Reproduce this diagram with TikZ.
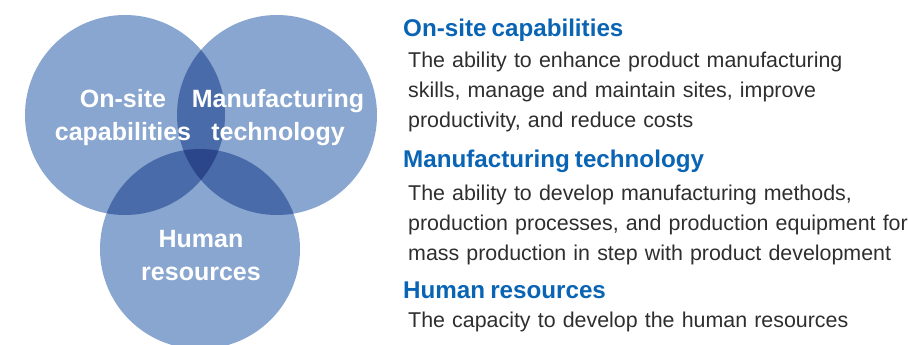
\documentclass[tikz,border=0pt]{standalone}
\usepackage{fontspec}
\setmainfont[WordSpace=0.75]{Liberation Sans}
\usepackage{tikz}
\definecolor{lightfill}{HTML}{88A6CF}
\definecolor{midfill}{HTML}{4A6BA9}
\definecolor{darkfill}{HTML}{2B468A}
\definecolor{headblue}{HTML}{0A64B4}
\definecolor{bodygray}{HTML}{2E2E2E}
\tikzset{
  circlabel/.style= {white, font=\fontsize{25}{33}\selectfont\bfseries, text width=200, align=center, inner sep=0, anchor=base},
  heading/.style= {headblue, font=\fontsize{24.2}{30}\selectfont\bfseries, inner sep=0, anchor=base west},
  body/.style= {bodygray, font=\fontsize{21.4}{30}\selectfont, text width=700, align=left, inner sep=0, anchor=base west},
}

\begin{document}
\begin{tikzpicture}[x=1pt, y=-1pt]
  \useasboundingbox (0,0) rectangle (908,345) ;
  \coordinate (os) at (125,115) ;
  \coordinate (mt) at (277,115) ;
  \coordinate (hr) at (200,249) ;

  \fill [lightfill] (os) circle [radius=100] ;
  \fill [lightfill] (mt) circle [radius=100] ;
  \fill [lightfill] (hr) circle [radius=100] ;
  \begin{scope}
    \clip (os) circle [radius=100] ;
    \fill [midfill] (mt) circle [radius=100] ;
    \fill [midfill] (hr) circle [radius=100] ;
  \end{scope}
  \begin{scope}
    \clip (mt) circle [radius=100] ;
    \fill [midfill] (hr) circle [radius=100] ;
  \end{scope}
  \begin{scope}
    \clip (os) circle [radius=100] ;
    \clip (mt) circle [radius=100] ;
    \fill [darkfill] (hr) circle [radius=100] ;
  \end{scope}

  \node [circlabel] (oslabel) at (123,107) {On-site\\capabilities} ;
  \node [circlabel] (mtlabel) at (278,107) {Manufacturing\\technology} ;
  \node [circlabel] (hrlabel) at (201,247) {Human\\resources} ;

  \node [heading] (oshead) at (403,37) {On-site capabilities} ;
  \node [body] (osbody) at (408,67) {The ability to enhance product manufacturing\\skills, manage and maintain sites, improve\\productivity, and reduce costs} ;
  \node [heading] (mthead) at (403,167) {Manufacturing technology} ;
  \node [body] (mtbody) at (408,200) {The ability to develop manufacturing methods,\\production processes, and production equipment for\\mass production in step with product development} ;
  \node [heading] (hrhead) at (403,298) {Human resources} ;
  \node [body] (hrbody) at (408,327) {The capacity to develop the human resources} ;
\end{tikzpicture}
\end{document}
